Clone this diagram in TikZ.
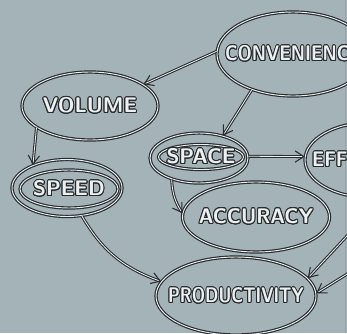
\documentclass[tikz,border=0pt]{standalone}
\usepackage{xcolor}
\usepackage{tikz}
\usepackage{contour}
\usetikzlibrary{shapes.geometric, arrows.meta}

\definecolor{slate}{RGB}{163,179,183}
\definecolor{ink}{RGB}{40,44,48}
\definecolor{chalk}{RGB}{236,240,240}
\contourlength{0.9pt}
% lettering that does not push the bubble wider
\newcommand{\hand}[2][1]{\makebox[0pt]{\scalebox{#1}[1]{\contour{ink}{\textcolor{chalk}{#2}}}}}

\begin{document}
\begin{tikzpicture}[x=0.3mm, y=-0.3mm,
  bubble/.style={ellipse, draw=ink, double=chalk, double distance=0.8pt,
                 line width=1pt, inner sep=0pt,
                 font=\sffamily\bfseries\fontsize{18}{18}\selectfont},
  link/.style={draw=ink, double=chalk, double distance=0.7pt, line width=0.9pt,
               -{Straight Barb[length=2.6mm, width=3.4mm]}}
]
  % backdrop and frame
  \fill[slate] (0,0) rectangle (347,333);
  \useasboundingbox (0,0) rectangle (347,333);
  \clip (0,0) rectangle (347,333);
  \draw[ink!45, line width=0.4pt] (345,0) -- (345,333);

  % bubbles
  \node[bubble, minimum width=45.6mm, minimum height=25.2mm] (conv) at (293,54) {\hand[0.85]{CONVENIENCE}};
  \node[bubble, minimum width=40.8mm, minimum height=20.4mm] (vol) at (90,106) {\hand{VOLUME}};
  \node[bubble, minimum width=29.4mm, minimum height=15mm] (space) at (199,158) {};
  \node[bubble, minimum width=25.5mm, minimum height=7.5mm] (spacet) at (201,157) {\hand{SPACE}};
  \node[bubble, minimum width=39mm, minimum height=22.5mm] (eff) at (370,160) {\hand[0.9]{EFFICIENCY}};
  \node[bubble, minimum width=33mm, minimum height=17.1mm] (speed) at (67,188) {};
  \node[bubble, minimum width=29.4mm, minimum height=11.4mm] (speedt) at (69,189) {\hand{SPEED}};
  \node[bubble, minimum width=44.1mm, minimum height=21mm] (acc) at (256,217) {\hand[0.95]{ACCURACY}};
  \node[bubble, minimum width=48mm, minimum height=23.4mm] (prod) at (236,296) {\hand[0.8]{PRODUCTIVITY}};

  % arrows from outside the frame
  \coordinate (offa) at (360,222);
  \coordinate (offb) at (360,266);

  % links
  \draw[link] (conv.178) -- (vol.22);
  \draw[link] (conv.221) -- (space.43);
  \draw[link] (vol.202) -- (speed.146);
  \draw[link] (space.2) -- (eff.177);
  \draw[link] (space.218) to[bend right=15] (acc.177);
  \draw[link] (speed.298) to[bend right=20] (prod.169);
  \draw[link] (offa) -- (prod.14);
  \draw[link] (offb) -- (prod.2);
\end{tikzpicture}
\end{document}
